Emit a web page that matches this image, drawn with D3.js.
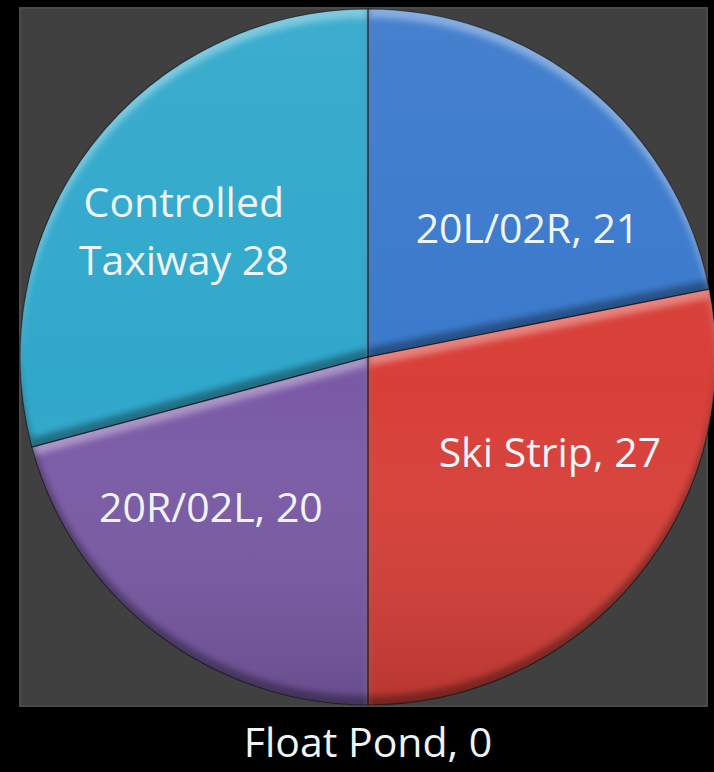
<!DOCTYPE html>
<html>
<head>
<meta charset="utf-8">
<script src="https://cdn.jsdelivr.net/npm/d3@7"></script>
<style>
  body { margin: 0; background: #000; }
  svg { display: block; }
</style>
</head>
<body>
<div id="chart"></div>
<script>
// slice data (clockwise from 12 o'clock)
var categories = ["20L/02R", "Ski Strip", "20R/02L", "Controlled Taxiway", "Float Pond"];
var values = [21, 27, 20, 28, 0];
var labelText = [["20L/02R, 21"], ["Ski Strip, 27"], ["20R/02L, 20"], ["Controlled", "Taxiway 28"], ["Float Pond, 0"]];
var colors = ["#3a79cc", "#d83f38", "#7a5aa6", "#30a8cb", "#8d8d8d"];

var width = 714, height = 772;
var cx = 368, cy = 357, radius = 348;
var labelRadius = 212;
// small nudges so labels sit like the original (layout only)
var labelNudge = [[25, 36], [18, -39], [-28, -18], [-16, 4], [0, 0]];

var svg = d3.select("#chart").append("svg")
            .attr("width", width)
            .attr("height", height);

svg.append("rect")
   .attr("width", width).attr("height", height)
   .style("fill", "#000");

// plot area
svg.append("rect")
   .attr("x", 20).attr("y", 8)
   .attr("width", 687).attr("height", 698)
   .style("fill", "#404040")
   .style("stroke", "#4b4b4b")
   .style("stroke-width", 2);

var defs = svg.append("defs");
defs.append("filter").attr("id", "soft")
    .attr("x", "-10%").attr("y", "-10%").attr("width", "120%").attr("height", "120%")
    .append("feGaussianBlur").attr("stdDeviation", 3);

var shade = defs.append("linearGradient").attr("id", "shade")
                .attr("x1", 0).attr("y1", 0).attr("x2", 0).attr("y2", 1);
shade.append("stop").attr("offset", "0%").attr("stop-color", "#fff").attr("stop-opacity", 0.06);
shade.append("stop").attr("offset", "55%").attr("stop-color", "#fff").attr("stop-opacity", 0);
shade.append("stop").attr("offset", "100%").attr("stop-color", "#000").attr("stop-opacity", 0.15);

var data = categories.map(function(c, i){
	return {name: c, value: values[i], label: labelText[i], color: colors[i]};
});

var pie = d3.pie().sort(null).value(function(d){ return d.value; });
var arcs = pie(data);
var arc = d3.arc().innerRadius(0).outerRadius(radius);
var labelArc = d3.arc().innerRadius(labelRadius).outerRadius(labelRadius);

var g = svg.append("g").attr("transform", "translate(" + cx + "," + cy + ")");

var big = "M-1000,-1000H1000V1000H-1000Z";
var bevel = 9;

arcs.forEach(function(d, i){
	if (d.value === 0) return;
	var p = arc(d);
	defs.append("clipPath").attr("id", "clip" + i)
	    .append("path").attr("d", p);
	var s = g.append("g").attr("clip-path", "url(#clip" + i + ")");
	s.append("path").attr("d", p).style("fill", d.data.color);
	s.append("circle").attr("r", radius).style("fill", "url(#shade)");
	// light on edges facing up
	s.append("g").attr("filter", "url(#soft)")
	 .append("path")
	 .attr("d", big + " " + p)
	 .attr("fill-rule", "evenodd")
	 .attr("transform", "translate(0," + bevel + ")")
	 .style("fill", "#fff").style("opacity", 0.35);
	// darker on edges facing down
	s.append("g").attr("filter", "url(#soft)")
	 .append("path")
	 .attr("d", big + " " + p)
	 .attr("fill-rule", "evenodd")
	 .attr("transform", "translate(0," + (-bevel) + ")")
	 .style("fill", "#000").style("opacity", 0.35);
});

// thin dark separators
g.selectAll("path.sep")
 .data(arcs.filter(function(d){ return d.value > 0; }))
 .enter()
 .append("path")
 .attr("class", "sep")
 .attr("d", arc)
 .style("fill", "none")
 .style("stroke", "rgba(0,0,0,0.45)")
 .style("stroke-width", 1.2);

// labels
arcs.forEach(function(d, i){
	var pos;
	if (d.value === 0) {
		pos = [0, radius + 38];
	} else {
		pos = labelArc.centroid(d);
		pos = [pos[0] + labelNudge[i][0], pos[1] + labelNudge[i][1]];
	}
	var lines = d.data.label;
	var lh = 58;
	var t = g.append("text")
	         .style("text-anchor", "middle")
	         .style("font-family", "'Open Sans', sans-serif")
	         .style("font-size", "41px")
	         .style("fill", "#eef4f7");
	lines.forEach(function(l, k){
		t.append("tspan")
		 .attr("x", pos[0])
		 .attr("y", pos[1] - (lines.length - 1) * lh / 2 + k * lh)
		 .attr("dy", "0.35em")
		 .text(l);
	});
});
</script>
</body>
</html>
